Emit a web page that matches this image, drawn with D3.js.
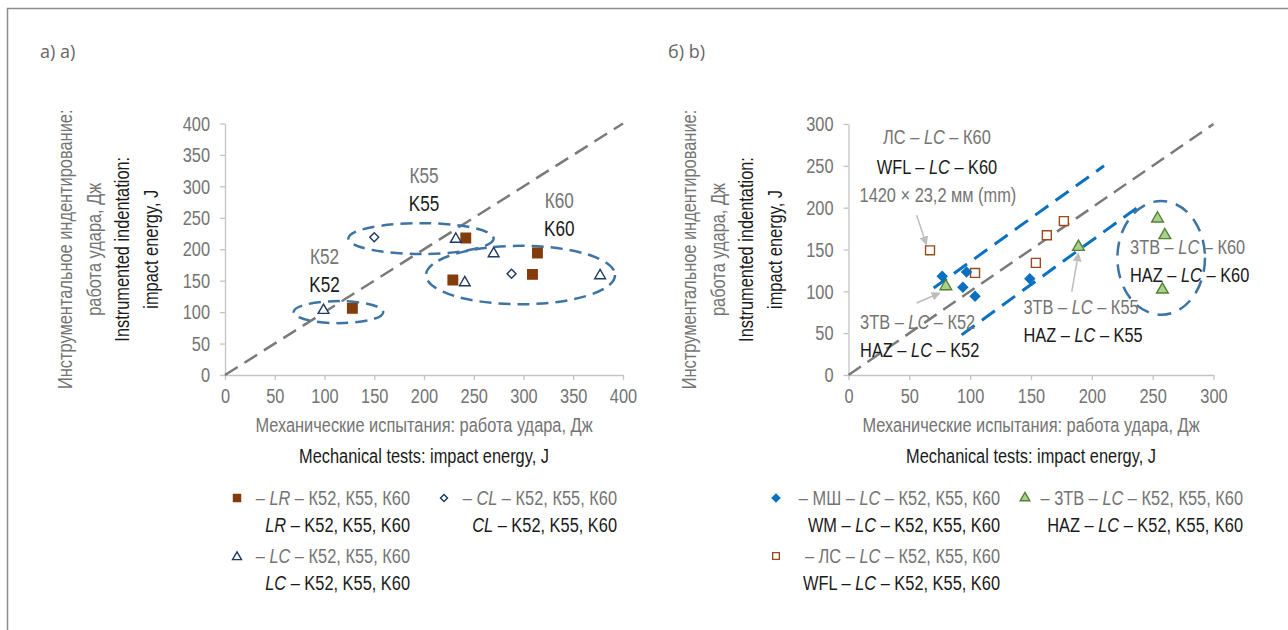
<!DOCTYPE html>
<html>
<head>
<meta charset="utf-8">
<script src="https://cdn.jsdelivr.net/npm/d3@7"></script>
<style>
  body { margin: 0; background: #fff; }
  svg text { font-family: "Liberation Sans", Arial, sans-serif; }
</style>
</head>
<body>
<div id="chart"></div>
<script>
/* Instrumented indentation vs mechanical impact tests, two panels */

// panel a) data: [mechanical, indentation]
const lrPoints = [[128, 106], [229, 151], [242, 218], [309, 160], [314, 194]];
const clPoints = [[150, 219], [288, 161]];
const lcPoints = [[99, 103], [232, 216], [241, 147], [270, 193], [377, 158]];

// panel b) data
const wmPoints = [[77, 118], [97, 123], [94, 105], [104, 94], [149, 115]];
const wflPoints = [[67, 149], [104, 122], [154, 134], [163, 167], [177, 184]];
const hazPoints = [[80, 106], [189, 153], [254, 187], [260, 167], [258, 102]];

const ticksA = [0, 50, 100, 150, 200, 250, 300, 350, 400];
const ticksB = [0, 50, 100, 150, 200, 250, 300];

// grouping ellipses in data units
const groupsA = [
    { cx: 114, cy: 100, rx: 45, ry: 17.5, ru: "К52", en: "K52", lx: 100, ly: 190 },
    { cx: 197, cy: 217, rx: 73, ry: 24.5, ru: "К55", en: "K55", lx: 200, ly: 318 },
    { cx: 297, cy: 159, rx: 95, ry: 46.5, ru: "К60", en: "K60", lx: 336, ly: 279 }
];
const groupsB = [{ cx: 257, cy: 140, rx: 36, ry: 68 }];
const bandLines = [[[70, 104], [210, 250]], [[93, 48], [242, 205]]];

const grey = "#747474", dark = "#1a1a1a";
const squeezeK = 0.78, fs = 21;

const svg = d3.select("#chart")
    .append("svg")
    .attr("width", 1288)
    .attr("height", 630);

// condensed look: squeeze text horizontally around its anchor point
function squeeze(sel) {
    sel.each(function () {
        const t = d3.select(this);
        const x = +t.attr("x") || 0, y = +t.attr("y") || 0;
        const prev = t.attr("transform") || "";
        t.attr("x", 0).attr("y", 0)
            .attr("transform", `${prev} translate(${x},${y}) scale(${squeezeK},1)`);
    });
    return sel;
}

// frame
svg.append("path")
    .attr("d", "M7.5,630 V8.5 H1288")
    .attr("fill", "none")
    .attr("stroke", "#8c8c8c")
    .attr("stroke-width", 1.5);

svg.append("text").text("а) а)")
    .attr("x", 40).attr("y", 58)
    .style("font-family", "'Open Sans', sans-serif")
    .attr("font-size", 18).attr("fill", "#666");
svg.append("text").text("б) b)")
    .attr("x", 668).attr("y", 58)
    .style("font-family", "'Open Sans', sans-serif")
    .attr("font-size", 18).attr("fill", "#666");

function rich(g, x, y, parts, color, anchor) {
    const t = g.append("text")
        .attr("x", x).attr("y", y)
        .attr("dy", "0.35em")
        .attr("font-size", fs)
        .attr("fill", color)
        .attr("text-anchor", anchor || "start");
    parts.forEach(p => {
        t.append("tspan").text(p[0]).attr("font-style", p[1] ? "italic" : null);
    });
    return squeeze(t);
}

function setupPanel(x, y, ticks, axisX) {
    const g = svg.append("g");

    const xAxis = d3.axisBottom(x).tickValues(ticks).tickSize(5).tickSizeOuter(0).tickPadding(8);
    const yAxis = d3.axisLeft(y).tickValues(ticks).tickSize(5).tickSizeOuter(0).tickPadding(10);

    g.append("g")
        .attr("transform", `translate(0,${y(0)})`)
        .call(xAxis);
    g.append("g")
        .attr("transform", `translate(${x(0)},0)`)
        .call(yAxis);

    g.selectAll(".domain, .tick line").attr("stroke", "#c4c4c4").attr("stroke-width", 1.3);
    squeeze(g.selectAll(".tick text")
        .attr("font-size", fs)
        .attr("fill", grey)
        .style("font-family", "'Liberation Sans', Arial, sans-serif"));

    // y title (rotated)
    const yc = (y.range()[0] + y.range()[1]) / 2;
    const lines = [
        ["Инструментальное индентирование:", grey],
        ["работа удара, Дж", grey],
        ["Instrumented indentation:", dark],
        ["impact energy, J", dark]
    ];
    lines.forEach((l, i) => {
        squeeze(g.append("text")
            .attr("transform", `translate(${axisX + i * 28.5},${yc}) rotate(-90)`)
            .attr("text-anchor", "middle")
            .attr("font-size", fs)
            .attr("fill", l[1])
            .text(l[0]));
    });

    const xc = (x.range()[0] + x.range()[1]) / 2;
    squeeze(g.append("text").attr("x", xc).attr("y", 432)
        .attr("text-anchor", "middle").attr("font-size", fs).attr("fill", grey)
        .text("Механические испытания: работа удара, Дж"));
    squeeze(g.append("text").attr("x", xc).attr("y", 463)
        .attr("text-anchor", "middle").attr("font-size", fs).attr("fill", dark)
        .text("Mechanical tests: impact energy, J"));

    // 1:1 line
    g.append("line")
        .attr("x1", x(0)).attr("y1", y(0))
        .attr("x2", x(ticks[ticks.length - 1])).attr("y2", y(ticks[ticks.length - 1]))
        .attr("stroke", "#7a7a7a")
        .attr("stroke-width", 2.5)
        .attr("stroke-dasharray", "15,8");
    return g;
}

function marks(g, data, x, y, type, size, fill, stroke, rotate) {
    g.selectAll(null)
        .data(data)
        .join("path")
        .attr("d", d3.symbol().type(type).size(size))
        .attr("transform", d => `translate(${x(d[0])},${y(d[1])})` + (rotate ? " rotate(45)" : ""))
        .attr("fill", fill)
        .attr("stroke", stroke)
        .attr("stroke-width", 1.4);
}

/* ---------- panel a ---------- */
const xA = d3.scaleLinear().domain([0, 400]).range([225, 623]);
const yA = d3.scaleLinear().domain([0, 400]).range([375, 123.5]);
const gA = setupPanel(xA, yA, ticksA, 72);

gA.selectAll(".grp")
    .data(groupsA)
    .join("ellipse")
    .attr("cx", d => xA(d.cx)).attr("cy", d => yA(d.cy))
    .attr("rx", d => xA(d.rx) - xA(0)).attr("ry", d => yA(0) - yA(d.ry))
    .attr("fill", "none")
    .attr("stroke", "#3e74a3")
    .attr("stroke-width", 2.5)
    .attr("stroke-dasharray", "12,7");

groupsA.forEach(d => {
    squeeze(gA.append("text").attr("x", xA(d.lx)).attr("y", yA(d.ly) + 8)
        .attr("text-anchor", "middle").attr("font-size", 22).attr("fill", grey).text(d.ru));
    squeeze(gA.append("text").attr("x", xA(d.lx)).attr("y", yA(d.ly) + 36)
        .attr("text-anchor", "middle").attr("font-size", 22).attr("fill", dark).text(d.en));
});

marks(gA, lrPoints, xA, yA, d3.symbolSquare, 90, "#843c0c", "#843c0c");
marks(gA, clPoints, xA, yA, d3.symbolSquare, 40, "#fff", "#1f3864", true);
marks(gA, lcPoints, xA, yA, d3.symbolTriangle, 50, "#fff", "#1f3864");

// legend a
const legA = svg.append("g");
marks(legA, [[237, 498]], d => d, d => d, d3.symbolSquare, 50, "#843c0c", "#843c0c");
rich(legA, 410, 498, [["– ", false], ["LR", true], [" – К52, К55, К60", false]], grey, "end");
rich(legA, 410, 525, [["LR", true], [" – K52, K55, K60", false]], dark, "end");
marks(legA, [[444, 498]], d => d, d => d, d3.symbolSquare, 25, "#fff", "#1f3864", true);
rich(legA, 617, 498, [["– ", false], ["CL", true], [" – К52, К55, К60", false]], grey, "end");
rich(legA, 617, 525, [["CL", true], [" – K52, K55, K60", false]], dark, "end");
marks(legA, [[237, 557]], d => d, d => d, d3.symbolTriangle, 35, "#fff", "#1f3864");
rich(legA, 410, 556, [["– ", false], ["LC", true], [" – К52, К55, К60", false]], grey, "end");
rich(legA, 410, 583, [["LC", true], [" – K52, K55, K60", false]], dark, "end");

/* ---------- panel b ---------- */
const xB = d3.scaleLinear().domain([0, 300]).range([848.5, 1213.5]);
const yB = d3.scaleLinear().domain([0, 300]).range([375, 124]);
const gB = setupPanel(xB, yB, ticksB, 696);

bandLines.forEach(l => {
    gB.append("line")
        .attr("x1", xB(l[0][0])).attr("y1", yB(l[0][1]))
        .attr("x2", xB(l[1][0])).attr("y2", yB(l[1][1]))
        .attr("stroke", "#0a70c0")
        .attr("stroke-width", 3)
        .attr("stroke-dasharray", "16,9");
});

gB.selectAll(".grp")
    .data(groupsB)
    .join("ellipse")
    .attr("cx", d => xB(d.cx)).attr("cy", d => yB(d.cy))
    .attr("rx", d => xB(d.rx) - xB(0)).attr("ry", d => yB(0) - yB(d.ry))
    .attr("fill", "none")
    .attr("stroke", "#3e74a3")
    .attr("stroke-width", 2.5)
    .attr("stroke-dasharray", "14,9");

// annotation arrows
svg.append("defs").append("marker")
    .attr("id", "arr")
    .attr("viewBox", "0 0 10 10")
    .attr("refX", 9).attr("refY", 5)
    .attr("markerWidth", 9).attr("markerHeight", 9)
    .attr("markerUnits", "userSpaceOnUse")
    .attr("orient", "auto")
    .append("path").attr("d", "M0,0 L10,5 L0,10 z").attr("fill", "#bdbdbd");

const arrowsB = [[[56, 191], [64, 156]], [[56, 86], [75, 98]], [[183.5, 99.5], [189, 145.5]]];
arrowsB.forEach(a => {
    gB.append("line")
        .attr("x1", xB(a[0][0])).attr("y1", yB(a[0][1]))
        .attr("x2", xB(a[1][0])).attr("y2", yB(a[1][1]))
        .attr("stroke", "#bdbdbd").attr("stroke-width", 1.5)
        .attr("marker-end", "url(#arr)");
});

marks(gB, wflPoints, xB, yB, d3.symbolSquare, 80, "#fff", "#9a4a1e");
marks(gB, hazPoints, xB, yB, d3.symbolTriangle, 60, "#a9d18e", "#548235");
marks(gB, wmPoints, xB, yB, d3.symbolSquare, 45, "#0a70c0", "#0a70c0", true);

// text labels panel b
rich(gB, xB(72.7), yB(284.5), [["ЛС – ", false], ["LC", true], [" – К60", false]], grey, "middle");
rich(gB, xB(72.7), yB(249), [["WFL – ", false], ["LC", true], [" – K60", false]], dark, "middle");
rich(gB, xB(73.5), yB(215), [["1420 × 23,2 мм (mm)", false]], grey, "middle");

const zoneLabels = [[9.5, 64, "К52", "K52"], [143.8, 82, "К55", "K55"], [231.4, 153, "К60", "K60"]];
zoneLabels.forEach(z => {
    rich(gB, xB(z[0]), yB(z[1]), [["3ТВ – ", false], ["LC", true], [" – " + z[2], false]], grey);
    rich(gB, xB(z[0]), yB(z[1]) + 28, [["HAZ – ", false], ["LC", true], [" – " + z[3], false]], dark);
});

// legend b
const legB = svg.append("g");
marks(legB, [[776, 498]], d => d, d => d, d3.symbolSquare, 30, "#0a70c0", "#0a70c0", true);
rich(legB, 1000, 498, [["– МШ – ", false], ["LC", true], [" – К52, К55, К60", false]], grey, "end");
rich(legB, 1000, 525, [["WM – ", false], ["LC", true], [" – K52, K55, K60", false]], dark, "end");
marks(legB, [[1025, 498]], d => d, d => d, d3.symbolTriangle, 40, "#a9d18e", "#548235");
rich(legB, 1243, 498, [["– 3ТВ – ", false], ["LC", true], [" – К52, К55, К60", false]], grey, "end");
rich(legB, 1243, 525, [["HAZ – ", false], ["LC", true], [" – K52, K55, K60", false]], dark, "end");
marks(legB, [[776, 556]], d => d, d => d, d3.symbolSquare, 45, "#fff", "#9a4a1e");
rich(legB, 1000, 556, [["– ЛС – ", false], ["LC", true], [" – К52, К55, К60", false]], grey, "end");
rich(legB, 1000, 583, [["WFL – ", false], ["LC", true], [" – K52, K55, K60", false]], dark, "end");
</script>
</body>
</html>
